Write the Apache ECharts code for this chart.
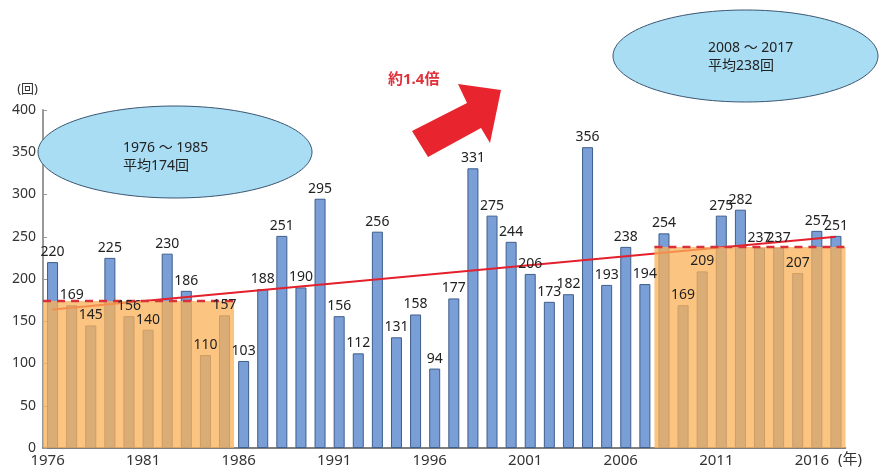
<!DOCTYPE html>
<html>
<head>
<meta charset="utf-8">
<script src="https://cdn.jsdelivr.net/npm/echarts@6/dist/echarts.min.js"></script>
<style>
html,body{margin:0;padding:0;background:#fff;}
#chart{width:879px;height:470px;}
</style>
</head>
<body>
<div id="chart"></div>
<script>
const years = ['1976','1977','1978','1979','1980','1981','1982','1983','1984','1985',
  '1986','1987','1988','1989','1990','1991','1992','1993','1994','1995',
  '1996','1997','1998','1999','2000','2001','2002','2003','2004','2005',
  '2006','2007','2008','2009','2010','2011','2012','2013','2014','2015',
  '2016','2017'];
const counts = [220,169,145,225,156,140,230,186,110,157,
  103,188,251,190,295,156,112,256,131,158,
  94,177,331,275,244,206,173,182,356,193,
  238,194,254,169,209,275,282,237,237,207,
  257,251];
const periodStart = ['1976','2008'];
const periodEnd = ['1985','2017'];
const periodAvg = [174, 238];
const periodTitles = ['1976 ～ 1985', '2008 ～ 2017'];
const periodLabels = ['平均174回', '平均238回'];
const trendYears = ['1976','2017'];
const trendValues = [164, 250];
const yTicks = [0,50,100,150,200,250,300,350,400];

const FONT = '"Noto Sans", "Noto Sans CJK JP", sans-serif';
const chart = echarts.init(document.getElementById('chart'));

const periodData = periodStart.map((s, i) => [years.indexOf(s), years.indexOf(periodEnd[i]), periodAvg[i]]);

const option = {
  animation: false,
  grid: {left: 43, right: 33.5, top: 110, bottom: 22, containLabel: false},
  xAxis: {
    type: 'category',
    data: years,
    boundaryGap: true,
    axisLine: {show: true, lineStyle: {color: '#555', width: 1.5}},
    axisTick: {show: false},
    axisLabel: {interval: 4, color: '#333', fontSize: 15, fontFamily: FONT, margin: 5, padding: [0, 10, 0, 0]}
  },
  yAxis: {
    type: 'value',
    min: yTicks[0], max: yTicks[yTicks.length-1], interval: 50,
    name: '(回)',
    nameLocation: 'end',
    nameGap: 14,
    nameTextStyle: {align: 'right', color: '#333', fontSize: 13, fontFamily: FONT, padding: [0, 5, 0, 0]},
    axisLine: {show: true, lineStyle: {color: '#999', width: 2}},
    axisTick: {show: true, inside: true, length: 4, lineStyle: {color: '#999'}},
    splitLine: {show: false},
    axisLabel: {color: '#333', fontSize: 14, fontFamily: FONT, margin: 7}
  },
  series: [
    {
      type: 'bar',
      data: counts,
      barWidth: 11,
      z: 2,
      itemStyle: {color: '#7A9ED6', borderColor: '#3F5E8C', borderWidth: 1}
    },
    {
      type: 'line',
      data: trendYears.map((y, i) => [years.indexOf(y), trendValues[i]]),
      symbol: 'none',
      z: 3,
      lineStyle: {color: '#E3202C', width: 2},
      silent: true
    },
    {
      type: 'custom',
      z: 5,
      data: periodData,
      encode: {x: [0, 1], y: 2},
      renderItem: function (params, api) {
        const s = api.value(0), e = api.value(1), avg = api.value(2);
        const band = api.size([1, 0])[0];
        const pTop = api.coord([s, avg]);
        const pEnd = api.coord([e, 0]);
        const x0 = pTop[0] - band / 2;
        const x1 = pEnd[0] + band / 2;
        return {
          type: 'group',
          children: [
            {type: 'rect', shape: {x: x0, y: pTop[1], width: x1 - x0, height: pEnd[1] - pTop[1]},
             style: {fill: 'rgba(250,178,88,0.76)'}},
            {type: 'line', shape: {x1: x0, y1: pTop[1], x2: x1, y2: pTop[1]},
             style: {stroke: '#D9303A', lineWidth: 2.5, lineDash: [8, 6]}}
          ]
        };
      },
      silent: true
    },
    {
      type: 'bar',
      data: counts,
      barWidth: 11,
      barGap: '-100%',
      z: 10,
      itemStyle: {color: 'rgba(0,0,0,0)'},
      label: {show: true, position: 'top', distance: 3, color: '#222', fontSize: 14, fontFamily: FONT},
      silent: true
    }
  ],
  graphic: [
    {type: 'ellipse', shape: {cx: 175, cy: 152, rx: 137, ry: 46}, z: 20,
     style: {fill: '#A9DDF4', stroke: '#3A5670', lineWidth: 1}},
    {type: 'text', left: 123, top: 139, z: 21,
     style: {text: periodTitles[0] + '\n' + periodLabels[0], fill: '#222', fontSize: 14, fontFamily: FONT, lineHeight: 18}},
    {type: 'ellipse', shape: {cx: 745.5, cy: 56, rx: 132.5, ry: 46}, z: 20,
     style: {fill: '#A9DDF4', stroke: '#3A5670', lineWidth: 1}},
    {type: 'text', left: 708, top: 39, z: 21,
     style: {text: periodTitles[1] + '\n' + periodLabels[1], fill: '#222', fontSize: 14, fontFamily: FONT, lineHeight: 18}},
    {type: 'polygon', z: 20,
     shape: {points: [[412,131],[467,103],[458,84],[501,90],[490,143],[481,128],[428,157]]},
     style: {fill: '#E8252F'}},
    {type: 'text', left: 388, top: 72, z: 21,
     style: {text: '約1.4倍', fill: '#E0303A', fontSize: 15, fontWeight: 'bold', fontFamily: FONT}},
    {type: 'text', left: 838, top: 452, z: 21,
     style: {text: '(年)', fill: '#333', fontSize: 15, fontFamily: FONT}}
  ]
};
chart.setOption(option);
</script>
</body>
</html>
